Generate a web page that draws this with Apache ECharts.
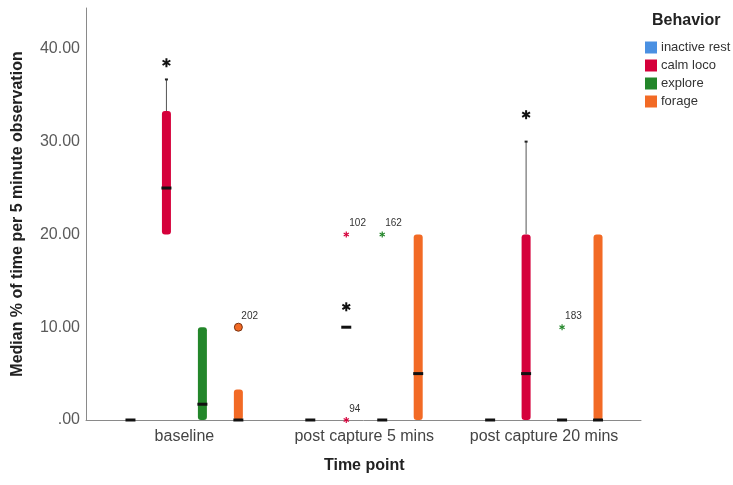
<!DOCTYPE html>
<html>
<head>
<meta charset="utf-8">
<script src="https://cdn.jsdelivr.net/npm/echarts@6/dist/echarts.min.js"></script>
<style>html,body{margin:0;padding:0;background:#fff;}#chart{width:733px;height:485px;}</style>
</head>
<body>
<div id="chart"></div>
<script>
// ---- data ----
const categories = ['baseline', 'post capture 5 mins', 'post capture 20 mins'];
const behaviors = ['inactive rest', 'calm loco', 'explore', 'forage'];
// [min, q1, median, q3, max] per category
const inactiveRest = [[0, 0, 0, 0, 0], [0, 0, 0, 0, 0], [0, 0, 0, 0, 0]];
const calmLoco = [[20, 20, 25, 33.3, 36.7], [10, 10, 10, 10, 10], [0, 0, 5, 20, 30]];
const explore = [[0, 0, 1.7, 10, 10], [0, 0, 0, 0, 0], [0, 0, 0, 0, 0]];
const forage = [[0, 0, 0, 3.3, 3.3], [0, 0, 5, 20, 20], [0, 0, 0, 20, 20]];
// outliers: [category index, behavior index, value]
const outliers = [[0, 3, 10], [1, 1, 20], [1, 1, 0], [1, 2, 20], [2, 2, 10]];
const outlierIds = ['202', '102', '94', '162', '183'];
const outlierKinds = ['circle', 'star', 'star', 'star', 'star'];
// significance asterisks: [category index, behavior index, value]
const sigStars = [[0, 1, 38.5], [1, 1, 12.2], [2, 1, 32.9]];
const yTicks = [0, 10, 20, 30, 40];
const yTickLabels = ['.00', '10.00', '20.00', '30.00', '40.00'];

const colors = ['#4a90e2', '#d5003b', '#23862a', '#f26a25'];
const boxData = [inactiveRest, calmLoco, explore, forage];
const Y_MAX = 44.4;

function xPos(api, ci, bi) {
  const bw = api.size([1, 0])[0];
  return api.coord([ci, 0])[0] + (bi - 1.5) * 0.2 * bw;
}
function starShape(x, y, r, color, lw) {
  const ch = [];
  for (let k = 0; k < 3; k++) {
    const a = Math.PI / 2 + k * Math.PI / 3;
    ch.push({type: 'line', shape: {x1: x - r * Math.cos(a), y1: y - r * Math.sin(a), x2: x + r * Math.cos(a), y2: y + r * Math.sin(a)},
      style: {stroke: color, lineWidth: lw}});
  }
  return ch;
}

function boxRender(bi) {
  return function (params, api) {
    const ci = api.value(0);
    const mn = api.value(1), q1 = api.value(2), md = api.value(3), q3 = api.value(4), mx = api.value(5);
    const x = xPos(api, ci, bi);
    const y = v => api.coord([ci, v])[1];
    const ch = [];
    const bw = 9;
    if (mx > q3) {
      ch.push({type: 'line', shape: {x1: x, y1: y(q3), x2: x, y2: y(mx)}, style: {stroke: '#555', lineWidth: 1}});
      ch.push({type: 'rect', shape: {x: x - 1.5, y: y(mx) - 1, width: 3, height: 2}, style: {fill: '#222'}});
    }
    if (q1 > mn) {
      ch.push({type: 'line', shape: {x1: x, y1: y(q1), x2: x, y2: y(mn)}, style: {stroke: '#555', lineWidth: 1}});
      ch.push({type: 'rect', shape: {x: x - 1.5, y: y(mn) - 1, width: 3, height: 2}, style: {fill: '#222'}});
    }
    if (q3 > q1) {
      ch.push({type: 'rect', shape: {x: x - bw / 2, y: y(q3), width: bw, height: y(q1) - y(q3), r: 3}, style: {fill: colors[bi]}});
    }
    ch.push({type: 'rect', shape: {x: x - 5, y: y(md) - 1.5, width: 10, height: 3}, style: {fill: '#111'}});
    return {type: 'group', children: ch};
  };
}

const series = behaviors.map((name, bi) => ({
  name: name,
  type: 'custom',
  xAxisIndex: 1, yAxisIndex: 1,
  itemStyle: {color: colors[bi]},
  renderItem: boxRender(bi),
  encode: {x: 0, y: [1, 2, 3, 4, 5]},
  data: boxData[bi].map((d, ci) => [ci].concat(d)),
  z: 2
}));

series.push({
  name: 'outliers',
  type: 'custom',
  xAxisIndex: 1, yAxisIndex: 1,
  z: 5,
  renderItem: function (params, api) {
    const ci = api.value(0), bi = api.value(1), v = api.value(2);
    const x = xPos(api, ci, bi);
    const y = api.coord([ci, v])[1];
    const i = params.dataIndex;
    let ch;
    if (outlierKinds[i] === 'circle') {
      ch = [{type: 'circle', shape: {cx: x, cy: y, r: 4}, style: {fill: colors[bi], stroke: '#7a3210', lineWidth: 1}}];
    } else {
      ch = starShape(x, y, 3, colors[bi], 1.2);
    }
    ch.push({type: 'text', style: {text: outlierIds[i], x: x + 3, y: y - 11, fill: '#333', fontSize: 10, fontFamily: 'Liberation Sans, Arial', align: 'left', verticalAlign: 'middle'}});
    return {type: 'group', children: ch};
  },
  encode: {x: 0, y: 2},
  data: outliers
});

series.push({
  name: 'significance',
  type: 'custom',
  xAxisIndex: 1, yAxisIndex: 1,
  z: 5,
  renderItem: function (params, api) {
    const ci = api.value(0), bi = api.value(1), v = api.value(2);
    const x = xPos(api, ci, bi);
    const y = api.coord([ci, v])[1];
    return {type: 'group', children: starShape(x, y, 4.5, '#111', 2)};
  },
  encode: {x: 0, y: 2},
  data: sigStars
});

const font = 'Liberation Sans';
const option = {
  animation: false,
  backgroundColor: '#fff',
  title: {text: 'Behavior', left: 652, top: 13, padding: 0,
    textStyle: {fontFamily: font, fontSize: 16, fontWeight: 'bold', color: '#222'}},
  legend: {
    data: behaviors, orient: 'vertical', left: 645, top: 41, padding: 0,
    icon: 'rect', itemWidth: 12, itemHeight: 12, itemGap: 5, itemStyle: {borderWidth: 0},
    selectedMode: false,
    textStyle: {fontFamily: font, fontSize: 13, color: '#333', padding: [0, 0, 0, -1]}
  },
  grid: [
    {left: 86, right: 92, top: 8, bottom: 65},
    {left: 94.5, right: 99, top: 8, bottom: 65}
  ],
  xAxis: [
    {type: 'value', gridIndex: 0, min: 0, max: 1, axisLine: {show: true, lineStyle: {color: '#8a8a8a', width: 1}},
      axisTick: {show: false}, axisLabel: {show: false}, splitLine: {show: false}},
    {type: 'category', gridIndex: 1, data: categories, axisLine: {show: false}, axisTick: {show: false},
      axisLabel: {fontFamily: font, fontSize: 16, color: '#444', margin: 9, interval: 0},
      name: 'Time point', nameLocation: 'middle', nameGap: 38,
      nameTextStyle: {fontFamily: font, fontSize: 16, fontWeight: 'bold', color: '#222'}}
  ],
  yAxis: [
    {type: 'value', gridIndex: 0, min: 0, max: Y_MAX, interval: 10,
      axisLine: {show: true, lineStyle: {color: '#8a8a8a', width: 1}}, axisTick: {show: false}, splitLine: {show: false},
      axisLabel: {fontFamily: font, fontSize: 16, color: '#5a5a5a', margin: 6,
        formatter: v => { const k = yTicks.indexOf(v); return k >= 0 ? yTickLabels[k] : ''; }},
      name: 'Median % of time per 5 minute observation', nameLocation: 'middle', nameGap: 60,
      nameTextStyle: {fontFamily: font, fontSize: 16, fontWeight: 'bold', color: '#222'}},
    {type: 'value', gridIndex: 1, min: 0, max: Y_MAX, show: false}
  ],
  series: series
};
const chart = echarts.init(document.getElementById('chart'));
chart.setOption(option);
</script>
</body>
</html>
